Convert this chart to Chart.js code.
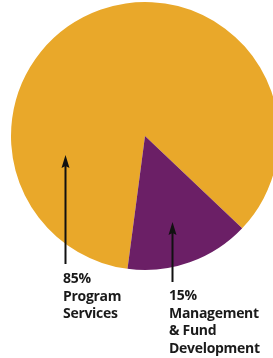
<!DOCTYPE html>
<html>
<head>
<meta charset="utf-8">
<script src="https://cdn.jsdelivr.net/npm/chart.js@4"></script>
<style>
  html, body { margin: 0; padding: 0; background: #fff; overflow: hidden; width: 273px; height: 358px; }
  #wrap { position: absolute; left: 0; top: 0; width: 290px; height: 358px; }
  .lbl { position: absolute; font-family: 'Open Sans', Roboto, sans-serif; font-weight: 700;
         font-size: 14px; line-height: 17.5px; color: #1a1a1a; letter-spacing: -0.3px; white-space: nowrap; }
</style>
</head>
<body>
<div id="wrap"><canvas id="pie" width="290" height="358"></canvas></div>
<div class="lbl" id="lblA" style="left:63px; top:269px;"></div>
<div class="lbl" id="lblB" style="left:169px; top:286px;"></div>
<script>
// data
const categories = ['Program Services', 'Management & Fund Development'];
const shares = [85, 15];
const sliceColors = ['#E9A82A', '#6B1F66'];

// label text: percent + name split in lines
const labelLines = [
  ['85%', 'Program', 'Services'],
  ['15%', 'Management', '& Fund', 'Development'],
];
document.getElementById('lblA').innerHTML = labelLines[0].join('<br>');
document.getElementById('lblB').innerHTML = labelLines[1].join('<br>');

// arrows pointing up into each slice
const arrowPlugin = {
  id: 'arrows',
  afterDatasetsDraw(chart) {
    const { ctx } = chart;
    const arrows = [
      { x: 65.5, top: 155, bottom: 264 },
      { x: 172.5, top: 222, bottom: 282 },
    ];
    ctx.save();
    ctx.strokeStyle = '#111';
    ctx.fillStyle = '#111';
    ctx.lineWidth = 2;
    arrows.forEach(a => {
      ctx.beginPath();
      ctx.moveTo(a.x, a.top + 8);
      ctx.lineTo(a.x, a.bottom);
      ctx.stroke();
      ctx.beginPath();
      ctx.moveTo(a.x, a.top);
      ctx.lineTo(a.x - 4, a.top + 13);
      ctx.lineTo(a.x, a.top + 11);
      ctx.lineTo(a.x + 4, a.top + 13);
      ctx.closePath();
      ctx.fill();
    });
    ctx.restore();
  }
};

new Chart(document.getElementById('pie'), {
  type: 'pie',
  data: {
    labels: categories,
    datasets: [{
      data: shares,
      backgroundColor: sliceColors,
      borderWidth: 0,
      hoverOffset: 0,
    }],
  },
  options: {
    responsive: false,
    animation: false,
    rotation: -172.5,
    radius: 134,
    layout: { padding: { left: 11, top: 2, right: 11, bottom: 88 } },
    plugins: { legend: { display: false }, tooltip: { enabled: false } },
  },
  plugins: [arrowPlugin],
});
</script>
</body>
</html>
